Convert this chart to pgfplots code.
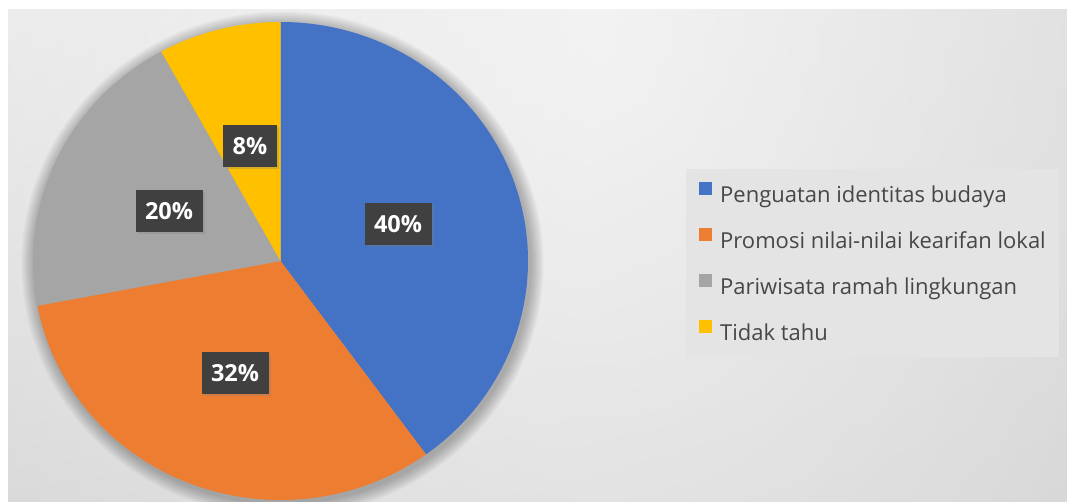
\documentclass[border=0pt]{standalone}
\usepackage{pgfplots}
\pgfplotsset{compat=1.18}
\usepackage{pgfplotstable}
\usepackage{fontspec}
\setmainfont{Open Sans}
\usetikzlibrary{shadows,fadings,shadings}
\definecolor{pblue}{HTML}{4472C4}
\definecolor{porange}{HTML}{ED7D31}
\definecolor{pgray}{HTML}{A5A5A5}
\definecolor{pyellow}{HTML}{FFC000}
\definecolor{lblbg}{HTML}{404040}
\definecolor{legtext}{HTML}{474747}
\definecolor{legbg}{HTML}{E4E4E4}
\definecolor{bgtl}{HTML}{E2E2E2}
\definecolor{bgtr}{HTML}{CDCDCD}
\definecolor{bgbl}{HTML}{CBCBCB}
\definecolor{bgbr}{HTML}{C3C3C3}
\tikzfading[name=hilite, inner color=transparent!30, outer color=transparent!100]

\pgfplotstableread{
value
40
32
20
8
}\piedata

\begin{document}
\begin{tikzpicture}
\pgfplotstablegetelem{0}{value}\of\piedata \edef\vA{\pgfplotsretval}
\pgfplotstablegetelem{1}{value}\of\piedata \edef\vB{\pgfplotsretval}
\pgfplotstablegetelem{2}{value}\of\piedata \edef\vC{\pgfplotsretval}
\pgfplotstablegetelem{3}{value}\of\piedata \edef\vD{\pgfplotsretval}
\pgfmathsetmacro\aA{90}
\pgfmathsetmacro\aB{\aA-3.6*\vA}
\pgfmathsetmacro\aC{\aB-3.6*\vB}
\pgfmathsetmacro\aD{\aC-3.6*\vC}
\pgfmathsetmacro\aE{\aD-3.6*\vD}
\def\cx{280.5}\def\cy{241}\def\rx{247.5}\def\ry{239}
\begin{axis}[
  scale only axis, width=1067bp, height=502bp,
  xmin=0, xmax=1067, ymin=0, ymax=502,
  hide axis, clip=false,
  legend style={
    at={(axis cs:686,333)}, anchor=north west,
    fill=legbg, draw=none,
    font=\fontsize{22bp}{26bp}\selectfont, text=legtext,
    inner xsep=13bp, inner ysep=12.5bp,
    row sep=21.5bp,
    nodes={inner sep=0bp, text height=17bp, text depth=4bp},
    /tikz/every odd column/.append style={column sep=8bp},
  },
  legend cell align=left,
  legend image code/.code={\fill[#1, draw=none] (0bp,1bp) rectangle (13bp,14bp);},
]
\coordinate (bbl) at (axis cs:0,0);
\coordinate (btr) at (axis cs:1067,502);
% background
\fill[white] (axis cs:0,0) rectangle (axis cs:1067,502);
\begin{scope}
\clip (axis cs:8,0) rectangle (axis cs:1067,492);
\shade[upper left=bgtl, upper right=bgtr, lower left=bgbl, lower right=bgbr] (axis cs:8,0) rectangle (axis cs:1067,492);
\fill[overlay, white, path fading=hilite] (axis cs:600,462) ellipse[x radius=1150bp, y radius=1600bp];
% pie shadow
\pgfplotsinvokeforeach{1,...,9}{
  \fill[black, opacity=0.03] (axis cs:{\cx+2},{\cy-3}) ellipse[x radius={(\rx+#1*1.5)*1bp}, y radius={(\ry+#1*1.5)*1bp}];
}
\end{scope}
% slices
\fill[pblue] (axis cs:\cx,\cy) -- (axis cs:{\cx+\rx*cos(\aA)},{\cy+\ry*sin(\aA)}) arc[start angle=\aA, end angle=\aB, x radius=\rx bp, y radius=\ry bp] -- cycle;
\fill[porange] (axis cs:\cx,\cy) -- (axis cs:{\cx+\rx*cos(\aB)},{\cy+\ry*sin(\aB)}) arc[start angle=\aB, end angle=\aC, x radius=\rx bp, y radius=\ry bp] -- cycle;
\fill[pgray] (axis cs:\cx,\cy) -- (axis cs:{\cx+\rx*cos(\aC)},{\cy+\ry*sin(\aC)}) arc[start angle=\aC, end angle=\aD, x radius=\rx bp, y radius=\ry bp] -- cycle;
\fill[pyellow] (axis cs:\cx,\cy) -- (axis cs:{\cx+\rx*cos(\aD)},{\cy+\ry*sin(\aD)}) arc[start angle=\aD, end angle=\aE, x radius=\rx bp, y radius=\ry bp] -- cycle;
% data labels
\tikzset{lbl/.style={fill=lblbg, text=white, font=\bfseries\fontsize{23.5bp}{25bp}\selectfont,
  inner xsep=9.5bp, minimum height=42bp, text height=17bp, text depth=0bp,
  drop shadow={shadow xshift=2.5bp, shadow yshift=-2.5bp, opacity=0.3}}}
\node[lbl] at (axis cs:398,278) {40\%};
\node[lbl] at (axis cs:235,129) {32\%};
\node[lbl] at (axis cs:169,291) {20\%};
\node[lbl] at (axis cs:250,356) {8\%};
% legend
\addlegendimage{fill=pblue}
\addlegendentry{Penguatan identitas budaya}
\addlegendimage{fill=porange}
\addlegendentry{Promosi nilai-nilai kearifan lokal}
\addlegendimage{fill=pgray}
\addlegendentry{Pariwisata ramah lingkungan}
\addlegendimage{fill=pyellow}
\addlegendentry{Tidak tahu}
\end{axis}
\pgfresetboundingbox
\path[use as bounding box] (bbl) rectangle (btr);
\end{tikzpicture}
\end{document}
